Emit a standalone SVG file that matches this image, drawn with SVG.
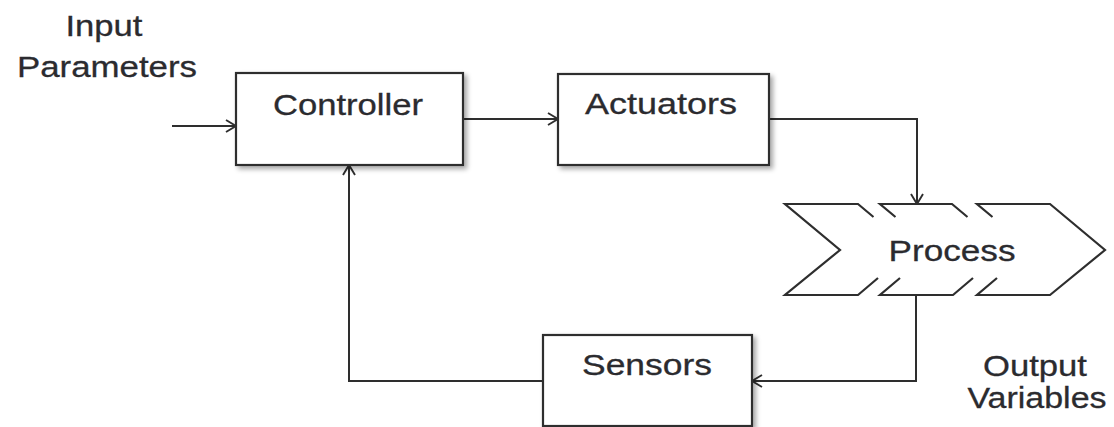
<svg xmlns="http://www.w3.org/2000/svg" width="1114" height="427" viewBox="0 0 1114 427">
  <style>
    .box { fill: #ffffff; stroke: #2e2e2e; stroke-width: 2.2; filter: url(#shadow); }
    .proc { fill: none; stroke: #2e2e2e; stroke-width: 2.2; stroke-linejoin: miter; }
    .wire { fill: none; stroke: #2e2e2e; stroke-width: 2; }
    .label { font-family: "Liberation Sans", Arial, sans-serif; font-size: 30px; fill: #2b2b2f; text-anchor: middle; stroke: #2b2b2f; stroke-width: 0.3; }
  </style>
  <defs>
    <filter id="shadow" x="-10%" y="-10%" width="130%" height="140%">
      <feGaussianBlur in="SourceAlpha" stdDeviation="2.5"/>
      <feOffset dx="3" dy="3" result="blur"/>
      <feComponentTransfer><feFuncA type="linear" slope="0.35"/></feComponentTransfer>
      <feMerge><feMergeNode/><feMergeNode in="SourceGraphic"/></feMerge>
    </filter>
    <marker id="arrow" viewBox="0 0 12 14" refX="11" refY="7" markerWidth="12" markerHeight="14" markerUnits="userSpaceOnUse" orient="auto">
      <path d="M1,1 L11,7 L1,13" fill="none" stroke="#2e2e2e" stroke-width="1.9"/>
    </marker>
  </defs>

  <!-- connectors -->
  <g id="connectors">
    <line class="wire" x1="172" y1="126" x2="236" y2="126" marker-end="url(#arrow)"/>
    <line class="wire" x1="463" y1="119" x2="558" y2="119" marker-end="url(#arrow)"/>
    <polyline class="wire" points="769,119 917,119 917,204" marker-end="url(#arrow)"/>
    <polyline class="wire" points="916,295 916,381 752,381" marker-end="url(#arrow)"/>
    <polyline class="wire" points="543,381 349,381 349,165" marker-end="url(#arrow)"/>
  </g>

  <!-- free labels -->
  <g id="input-label">
    <text class="label" x="104" y="36" textLength="77" lengthAdjust="spacingAndGlyphs">Input</text>
    <text class="label" x="107" y="77" textLength="180" lengthAdjust="spacingAndGlyphs">Parameters</text>
  </g>
  <g id="output-label">
    <text class="label" x="1035" y="376" textLength="104" lengthAdjust="spacingAndGlyphs">Output</text>
    <text class="label" x="1037" y="408" textLength="139" lengthAdjust="spacingAndGlyphs">Variables</text>
  </g>

  <!-- nodes -->
  <g id="controller">
    <rect class="box" x="236" y="73" width="227" height="92"/>
    <text class="label" x="348" y="115" textLength="150" lengthAdjust="spacingAndGlyphs">Controller</text>
  </g>
  <g id="actuators">
    <rect class="box" x="558" y="74" width="211" height="91"/>
    <text class="label" x="661" y="114" textLength="152" lengthAdjust="spacingAndGlyphs">Actuators</text>
  </g>
  <g id="process">
    <polygon points="785,204 1050,204 1105,250 1050,295 785,295 840,250" fill="#ffffff"/>
    <!-- first section: notched tail -->
    <path class="proc" d="M873.5,217 L858,204 L785,204 L840,250 L785,295 L858,295 L878,278"/>
    <!-- middle section -->
    <path class="proc" d="M895.5,217 L880,204 L952,204 L967.5,217"/>
    <path class="proc" d="M900,278 L880,295 L953,295 L973,278"/>
    <!-- last section: pointed head -->
    <path class="proc" d="M992.5,217 L977,204 L1050,204 L1105,250 L1050,295 L977,295 L997,278"/>
    <text class="label" x="952" y="261" textLength="127" lengthAdjust="spacingAndGlyphs">Process</text>
  </g>
  <g id="sensors">
    <rect class="box" x="543" y="335" width="209" height="91"/>
    <text class="label" x="647" y="375" textLength="130" lengthAdjust="spacingAndGlyphs">Sensors</text>
  </g>
</svg>
